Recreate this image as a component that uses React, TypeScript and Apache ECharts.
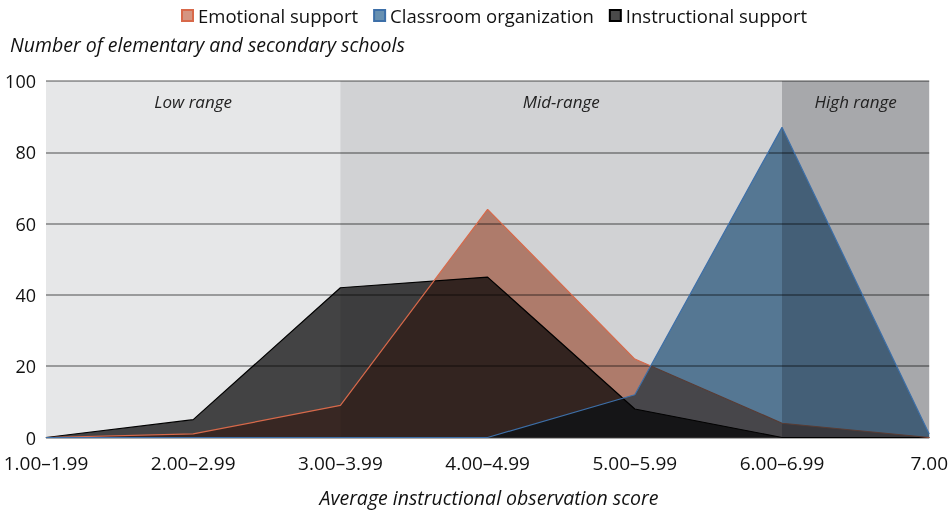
import React, { useEffect, useRef } from "react";
import * as echarts from "echarts";

const categories = ["1.00–1.99", "2.00–2.99", "3.00–3.99", "4.00–4.99", "5.00–5.99", "6.00–6.99", "7.00"];
const emotionalSupport = [0, 1, 9, 64, 22, 4, 0];
const classroomOrganization = [0, 0, 0, 0, 12, 87, 1];
const instructionalSupport = [0, 5, 42, 45, 8, 0, 0];
const yTicks = { min: 0, max: 100, interval: 20 };
const bands = [
  { name: "Low range", from: "1.00–1.99", to: "3.00–3.99", color: "#e6e7e8" },
  { name: "Mid-range", from: "3.00–3.99", to: "6.00–6.99", color: "#d1d2d4" },
  { name: "High range", from: "6.00–6.99", to: "7.00", color: "#a7a8ab" },
];
const yTitle = "Number of elementary and secondary schools";
const xTitle = "Average instructional observation score";

const FONT = "'Open Sans', 'Noto Sans', sans-serif";

export default function App() {
  const ref = useRef<HTMLDivElement>(null);
  useEffect(() => {
    if (!ref.current) return;
    const chart = echarts.init(ref.current, null, { renderer: "svg" });
    const mk = (name: string, data: number[], line: string, fill: string, z: number) => ({
      name,
      type: "line",
      data,
      clip: false,
      showSymbol: false,
      symbol: "none",
      lineStyle: { color: line, width: 1.2 },
      itemStyle: { color: fill, borderColor: line, borderWidth: 1 },
      areaStyle: { color: fill, opacity: 1 },
      z,
    });
    chart.setOption({
      animation: false,
      textStyle: { fontFamily: FONT },
      grid: { left: 46, right: 20, top: 81, bottom: 72.5 },
      legend: {
        top: 1,
        left: 176,
        icon: "rect",
        itemWidth: 11,
        itemHeight: 11,
        itemGap: 15,
        textStyle: { fontSize: 18.5, color: "#111", fontFamily: FONT },
        data: ["Emotional support", "Classroom organization", "Instructional support"],
      },
      xAxis: {
        type: "category",
        data: categories,
        boundaryGap: false,
        axisLine: { show: true, lineStyle: { color: "#777", width: 1 } },
        axisTick: { show: false },
        axisLabel: { fontSize: 19, color: "#111", margin: 16, fontFamily: FONT },
        splitLine: { show: false },
      },
      yAxis: {
        type: "value",
        min: yTicks.min,
        max: yTicks.max,
        interval: yTicks.interval,
        axisLine: { show: false },
        axisTick: { show: false },
        axisLabel: { fontSize: 18, color: "#111", margin: 10, fontFamily: FONT },
        splitLine: { show: true, lineStyle: { color: "#8e8e8e", width: 1.5 } },
      },
      graphic: [
        {
          type: "text",
          left: 10,
          top: 34,
          style: { text: yTitle, font: `italic 19.5px ${FONT}`, fill: "#111" },
        },
        {
          type: "text",
          x: 489,
          y: 497,
          style: { text: xTitle, font: `italic 19.5px ${FONT}`, fill: "#111", align: "center", verticalAlign: "middle" },
        },
      ],
      series: [
        {
          name: "bands",
          type: "line",
          data: [],
          z: 1,
          markArea: {
            silent: true,
            label: {
              show: true,
              position: "insideTop",
              distance: 12,
              fontStyle: "italic",
              fontSize: 17,
              color: "#222",
              fontFamily: FONT,
            },
            data: bands.map((b) => [
              { name: b.name, xAxis: b.from, yAxis: yTicks.max, itemStyle: { color: b.color, opacity: 1 } },
              { xAxis: b.to, yAxis: yTicks.min },
            ]),
          },
        },
        mk("Instructional support", instructionalSupport, "#000000", "#4a4a4a", 3),
        mk("Emotional support", emotionalSupport, "#d8694a", "#d59581", 3),
        mk("Classroom organization", classroomOrganization, "#3d6fa8", "#6790b1", 4),
      ],
    });
    return () => chart.dispose();
  }, []);
  return (
    <>
      <style>{`.cr svg g, .cr svg path { clip-path: none !important; isolation: auto !important; opacity: 1; }
.cr svg path:not([fill="none"]) { mix-blend-mode: multiply; }`}</style>
      <div
        ref={ref}
        className="cr"
        style={{ position: "fixed", left: 0, top: 0, width: 951, height: 510, background: "#fff" }}
      />
    </>
  );
}
